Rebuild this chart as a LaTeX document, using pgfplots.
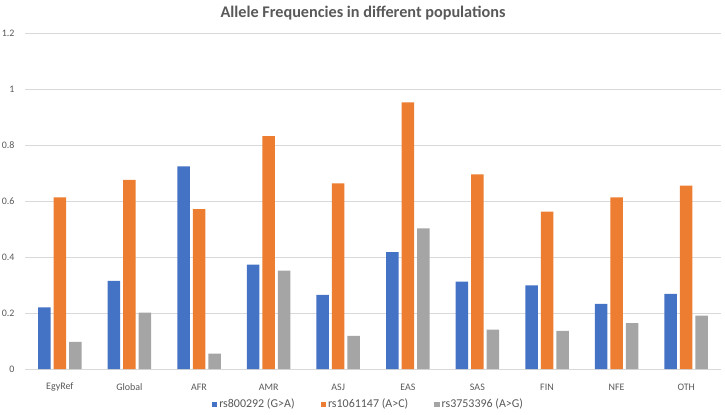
\documentclass[border=0pt]{standalone}
\usepackage{fontspec}
\setmainfont{Carlito}
\usepackage{pgfplots}
\pgfplotsset{compat=1.18}
\definecolor{cblue}{HTML}{4472C4}
\definecolor{corange}{HTML}{ED7D31}
\definecolor{cgray}{HTML}{A5A5A5}
\definecolor{tgray}{HTML}{595959}
\definecolor{gridgray}{HTML}{D9D9D9}
\begin{document}
\begin{tikzpicture}
\path[use as bounding box] (0,0) rectangle (725bp,415bp);
\node[font=\bfseries\fontsize{16.3}{18}\selectfont, text=tgray] at (363bp,402bp) {Allele Frequencies in different populations};
\begin{axis}[
  at={(25bp,46bp)}, anchor=south west,
  scale only axis, width=696bp, height=336bp,
  ybar=3bp, bar width=12.5bp,
  xmin=-0.5, xmax=9.5, ymin=0, ymax=1.2,
  xtick={0,...,9},
  xticklabels={EgyRef,Global,AFR,AMR,ASJ,EAS,SAS,FIN,NFE,OTH},
  ytick={0,0.2,0.4,0.6,0.8,1,1.2},
  yticklabels={0,0.2,0.4,0.6,0.8,1,1.2},
  ymajorgrids, major grid style={draw=gridgray, line width=0.8bp},
  axis line style={draw=none}, tick style={draw=none},
  ticklabel style={font=\fontsize{10}{12}\selectfont, text=tgray},
  xticklabel style={anchor=center, yshift=-14bp},
  yticklabel style={anchor=east, xshift=-7bp},
  /pgf/number format/assume math mode=true,
  legend style={draw=none, at={(0.4935,-0.105)}, anchor=center,
    font=\fontsize{12}{14}\selectfont, text=tgray,
    legend columns=3,
    /tikz/every odd column/.append style={column sep=0bp},
    /tikz/every even column/.append style={column sep=24bp}},
  legend image code/.code={\fill[#1] (0bp,-2.7bp) rectangle (5.4bp,2.7bp);},
  clip=false,
]
\addplot[fill=cblue, draw=none] coordinates {(0,0.220) (1,0.315) (2,0.724) (3,0.373) (4,0.265) (5,0.417) (6,0.312) (7,0.299) (8,0.233) (9,0.268)};
\addplot[fill=corange, draw=none] coordinates {(0,0.613) (1,0.675) (2,0.571) (3,0.832) (4,0.663) (5,0.952) (6,0.695) (7,0.562) (8,0.613) (9,0.655)};
\addplot[fill=cgray, draw=none] coordinates {(0,0.097) (1,0.201) (2,0.055) (3,0.351) (4,0.118) (5,0.502) (6,0.141) (7,0.136) (8,0.164) (9,0.191)};
\legend{rs800292 (G>A), rs1061147 (A>C), rs3753396 (A>G)}
\end{axis}
\end{tikzpicture}
\end{document}
